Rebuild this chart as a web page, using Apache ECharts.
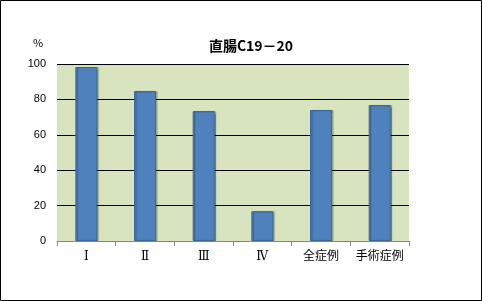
<!DOCTYPE html>
<html><head><meta charset="utf-8">
<script src="https://cdn.jsdelivr.net/npm/echarts@6/dist/echarts.min.js"></script>
<style>html,body{margin:0;padding:0;background:#fff}#c{width:482px;height:301px}</style>
</head><body><div id="c"></div>
<script>
var categories = ['Ⅰ','Ⅱ','Ⅲ','Ⅳ','全症例','手術症例'];
var values = [98.3, 84.7, 73.4, 16.8, 74.0, 76.8];
var yTicks = [0, 20, 40, 60, 80, 100];
var titleText = '直腸C19－20';
var unitText = '%';

var chart = echarts.init(document.getElementById('c'), null, {renderer:'canvas'});
chart.setOption({
  animation:false,
  backgroundColor:'#ffffff',
  title:{text:titleText,left:246,top:34,textAlign:'center',
    textStyle:{fontFamily:'Noto Sans CJK JP',fontSize:14,fontWeight:'bold',color:'#000'}},
  grid:{left:57,right:73,top:64,bottom:60,show:true,backgroundColor:'#d7e4bd',borderWidth:0},
  xAxis:{type:'category',data:categories,
    axisLine:{lineStyle:{color:'#868686',width:1}},
    axisTick:{show:true,length:5,lineStyle:{color:'#868686'},alignWithLabel:false},
    axisLabel:{interval:0,margin:10,fontFamily:'"Liberation Serif","DejaVu Serif","Noto Sans CJK JP"',fontSize:12,color:'#000'}},
  yAxis:{type:'value',min:yTicks[0],max:yTicks[yTicks.length-1],interval:20,
    axisLine:{show:false},axisTick:{show:false},
    axisLabel:{margin:11,fontFamily:'Liberation Sans',fontSize:11,color:'#000'},
    splitLine:{lineStyle:{color:'#000',width:1}}},
  graphic:[
    {type:'rect',shape:{x:0.5,y:0.5,width:481,height:300},style:{fill:'none',stroke:'#000',lineWidth:1},z:100},
    {type:'text',left:33,top:37,style:{text:unitText,fontFamily:'Noto Sans CJK JP',fontSize:11,fill:'#000'}}
  ],
  series:[{type:'bar',data:values,barWidth:22,
    itemStyle:{color:'#4f81bd',borderColor:'#3a679d',borderWidth:1,
      shadowColor:'rgba(0,0,0,0.3)',shadowOffsetX:1.5,shadowOffsetY:0,shadowBlur:1}}]
});
</script></body></html>
